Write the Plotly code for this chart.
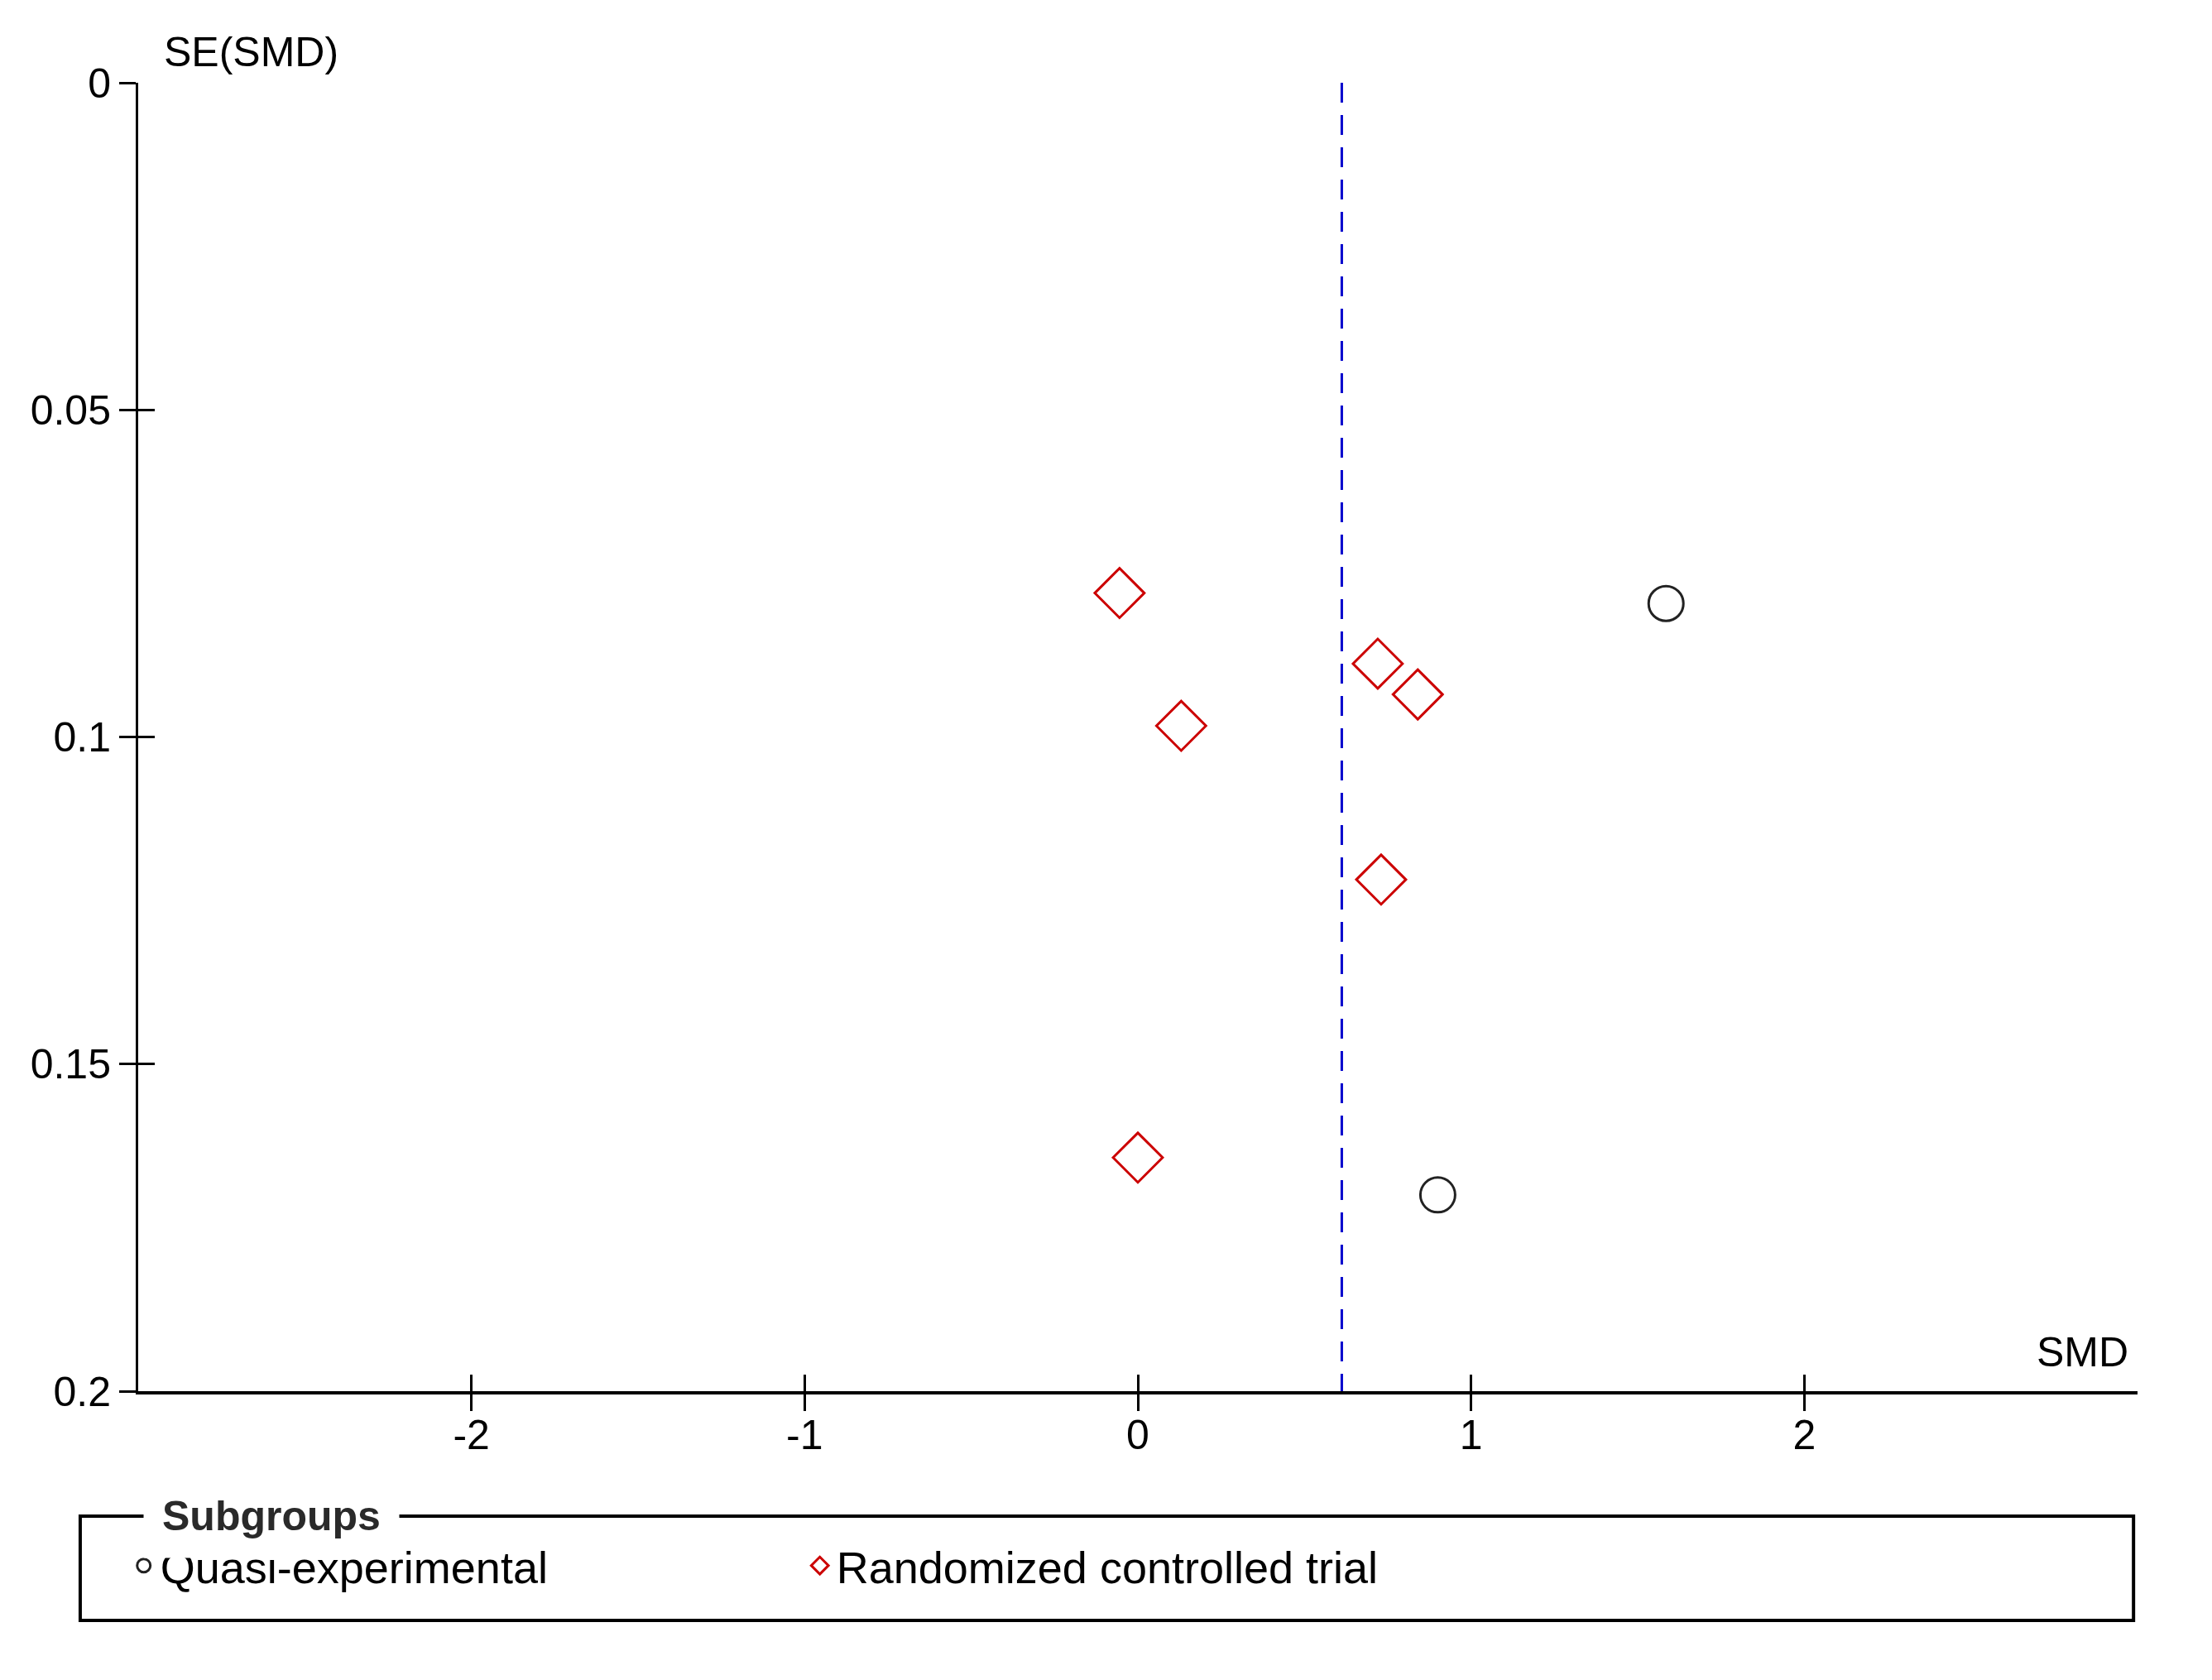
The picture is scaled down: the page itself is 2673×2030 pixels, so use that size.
import plotly.graph_objects as go

# ---- data ----
qe_label = "Quasi-experimental"
qe_smd = [1.585, 0.90]
qe_se = [0.0796, 0.170]

rct_label = "Randomized controlled trial"
rct_smd = [-0.055, 0.72, 0.84, 0.13, 0.73, 0.0]
rct_se = [0.078, 0.0888, 0.0935, 0.0983, 0.1218, 0.1643]

pooled_smd = 0.612
se_span = [0.0, 0.2]

x_ticks = [-2, -1, 0, 1, 2]
x_ticklabels = ["-2", "-1", "0", "1", "2"]
y_ticks = [0, 0.05, 0.1, 0.15, 0.2]
y_ticklabels = ["0", "0.05", "0.1", "0.15", "0.2"]

FONT = "Liberation Sans, Arial, sans-serif"
FS = 50

fig = go.Figure()

fig.add_trace(go.Scatter(
    x=qe_smd, y=qe_se, mode="markers", name=qe_label,
    marker=dict(symbol="circle-open", size=42, color="#222222",
                line=dict(width=3, color="#222222")),
))
fig.add_trace(go.Scatter(
    x=rct_smd, y=rct_se, mode="markers", name=rct_label,
    marker=dict(symbol="diamond-open", size=46, color="#CC0000",
                line=dict(width=3, color="#CC0000")),
))
fig.add_trace(go.Scatter(
    x=[pooled_smd, pooled_smd], y=se_span, mode="lines",
    line=dict(color="#0000CC", width=3, dash="24px,15px"),
    showlegend=False, hoverinfo="skip", xaxis="x2", yaxis="y2",
))

axis_common = dict(showgrid=False, zeroline=False, color="black")

fig.update_layout(
    width=2673, height=2030,
    margin=dict(l=167, r=90, t=100, b=349),
    paper_bgcolor="white", plot_bgcolor="white",
    font=dict(family=FONT, size=FS, color="black"),
    xaxis=dict(range=[-3, 3], tickvals=x_ticks, ticktext=x_ticklabels,
               ticks="outside", ticklen=20, tickwidth=3, tickcolor="black",
               showline=True, linewidth=4, linecolor="black",
               ticklabelstandoff=-14,
               tickfont=dict(size=FS), **axis_common),
    yaxis=dict(range=[0.2, 0], tickvals=y_ticks, ticktext=y_ticklabels,
               ticks="outside", ticklen=20, tickwidth=3, tickcolor="black",
               showline=True, linewidth=3, linecolor="black",
               tickfont=dict(size=FS), **axis_common),
    xaxis2=dict(range=[-3, 3], overlaying="x", anchor="y2", side="bottom",
                tickvals=x_ticks, ticks="inside", ticklen=20, tickwidth=3,
                tickcolor="black", showticklabels=False, showline=False,
                **axis_common),
    yaxis2=dict(range=[0.2, 0], overlaying="y", anchor="x2", side="left",
                tickvals=y_ticks, ticks="inside", ticklen=20, tickwidth=3,
                tickcolor="black", showticklabels=False, showline=False,
                **axis_common),
    showlegend=True,
    legend=dict(orientation="h", x=-0.0055, xanchor="left",
                y=-0.1335, yanchor="middle",
                font=dict(size=54, family=FONT, color="black"),
                bgcolor="rgba(0,0,0,0)", borderwidth=0,
                itemsizing="trace", entrywidth=772, entrywidthmode="pixels",
                traceorder="normal"),
    shapes=[dict(type="rect", xref="paper", yref="paper",
                 x0=-0.029, x1=0.998, y0=-0.1752, y1=-0.0955,
                 line=dict(color="black", width=4), fillcolor="rgba(0,0,0,0)")],
    annotations=[
        dict(text="SE(SMD)", xref="paper", yref="paper", x=0.012, y=1.0234,
             xanchor="left", yanchor="middle", showarrow=False,
             font=dict(size=FS, family=FONT, color="black")),
        dict(text="SMD", xref="paper", yref="paper", x=0.9963, y=0.0297,
             xanchor="right", yanchor="middle", showarrow=False,
             font=dict(size=FS, family=FONT, color="black")),
        dict(text="<b>Subgroups</b>", xref="paper", yref="paper", x=0.0025,
             y=-0.0955, xanchor="left", yanchor="middle", showarrow=False,
             bgcolor="white", borderpad=22,
             font=dict(size=FS, family=FONT, color="#2a2a2a")),
    ],
)

fig.write_html("out.html", config={"displayModeBar": False},
               post_script="document.body.style.margin='0';")
